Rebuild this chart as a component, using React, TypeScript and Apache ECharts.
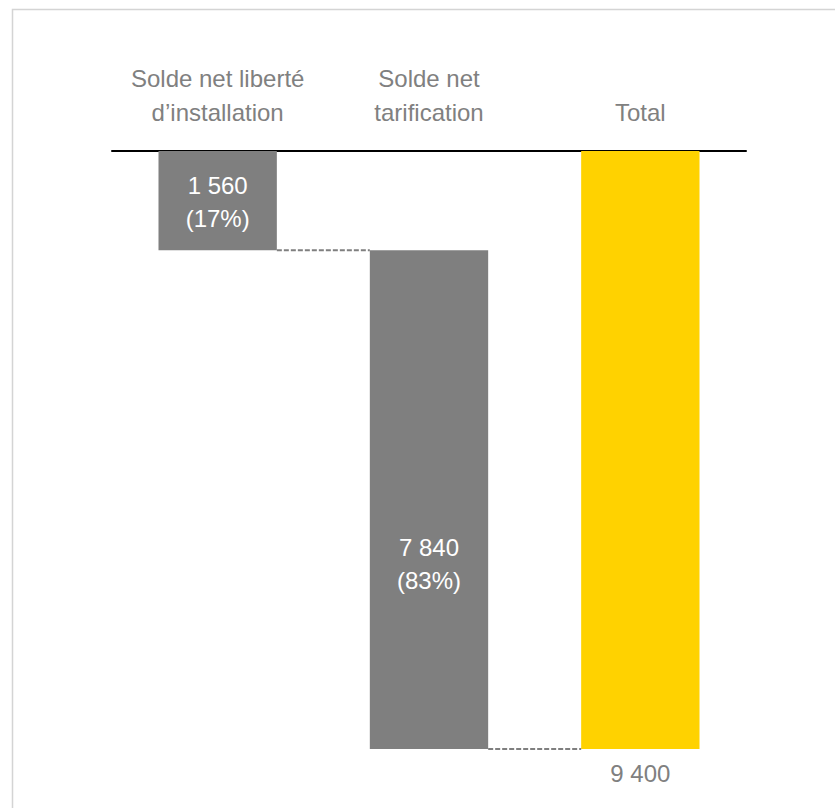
import React, { useEffect, useRef } from "react";
import * as echarts from "echarts";

const categories = ["Solde net liberté\nd\u2019installation", "Solde net\ntarification", "Total"];
const values = [1560, 7840, 9400];
const shares = ["17%", "83%", ""];
const isTotal = [false, false, true];
const yMax = 9400;

const GRAY = "#7F7F7F";
const YELLOW = "#FFD200";
const FONT = '"Liberation Sans", Arial, sans-serif';
const BAR_FRAC = 0.56;

function fmt(n: number): string {
  return String(n).replace(/\B(?=(\d{3})+(?!\d))/g, " ");
}

export default function App() {
  const ref = useRef<HTMLDivElement>(null);
  useEffect(() => {
    if (!ref.current) return;
    const chart = echarts.init(ref.current, null, { renderer: "svg" });

    const bases: number[] = [];
    let run = 0;
    values.forEach((v, i) => {
      if (isTotal[i]) {
        bases.push(0);
      } else {
        bases.push(run);
        run += v;
      }
    });
    const connectors = values.slice(0, -1).map((v, i) => [i, bases[i] + v]);

    chart.setOption({
      animation: false,
      backgroundColor: "#ffffff",
      graphic: [
        {
          type: "rect",
          shape: { x: 12.5, y: 9.5, width: 900, height: 900 },
          style: { fill: "none", stroke: "#D4D4D4", lineWidth: 1.5 },
          silent: true,
        },
      ],
      grid: { left: 112, right: 89, top: 151, bottom: 59 },
      xAxis: {
        type: "category",
        position: "top",
        data: categories,
        axisLine: { show: true, lineStyle: { color: "#000000", width: 2 } },
        axisTick: { show: false },
        splitLine: { show: false },
        axisLabel: {
          color: "#808080",
          fontSize: 24,
          fontFamily: FONT,
          lineHeight: 34,
          margin: 22,
          interval: 0,
        },
      },
      yAxis: {
        type: "value",
        inverse: true,
        min: 0,
        max: yMax,
        show: false,
        splitLine: { show: false },
      },
      series: [
        {
          type: "bar",
          stack: "w",
          barWidth: BAR_FRAC * 100 + "%",
          data: bases,
          itemStyle: { color: "transparent" },
          silent: true,
        },
        {
          type: "bar",
          stack: "w",
          barWidth: BAR_FRAC * 100 + "%",
          data: values.map((v, i) => ({
            value: v,
            itemStyle: { color: isTotal[i] ? YELLOW : GRAY },
            label: isTotal[i]
              ? {
                  show: true,
                  position: "bottom",
                  distance: 12,
                  color: "#808080",
                  fontSize: 24,
                  fontFamily: FONT,
                  formatter: fmt(v),
                }
              : {
                  show: true,
                  position: "inside",
                  offset: i === 1 ? [0, 64] : [0, 1],
                  color: "#ffffff",
                  fontSize: 24,
                  lineHeight: 33,
                  fontFamily: FONT,
                  formatter: fmt(v) + "\n(" + shares[i] + ")",
                },
          })),
        },
        {
          type: "custom",
          data: connectors,
          z: 5,
          renderItem: (params: any, api: any) => {
            const idx = api.value(0);
            const lvl = api.value(1);
            const p = api.coord([idx, lvl]);
            const band = api.size([1, 0])[0];
            const half = (band * BAR_FRAC) / 2;
            return {
              type: "line",
              shape: { x1: p[0] + half, y1: p[1], x2: p[0] + band - half, y2: p[1] },
              style: { stroke: GRAY, lineWidth: 2, lineDash: [5, 2] },
            };
          },
        },
      ],
    });
    return () => chart.dispose();
  }, []);

  return (
    <div
      ref={ref}
      style={{ position: "absolute", left: 0, top: 0, width: 835, height: 808, background: "#fff" }}
    />
  );
}
